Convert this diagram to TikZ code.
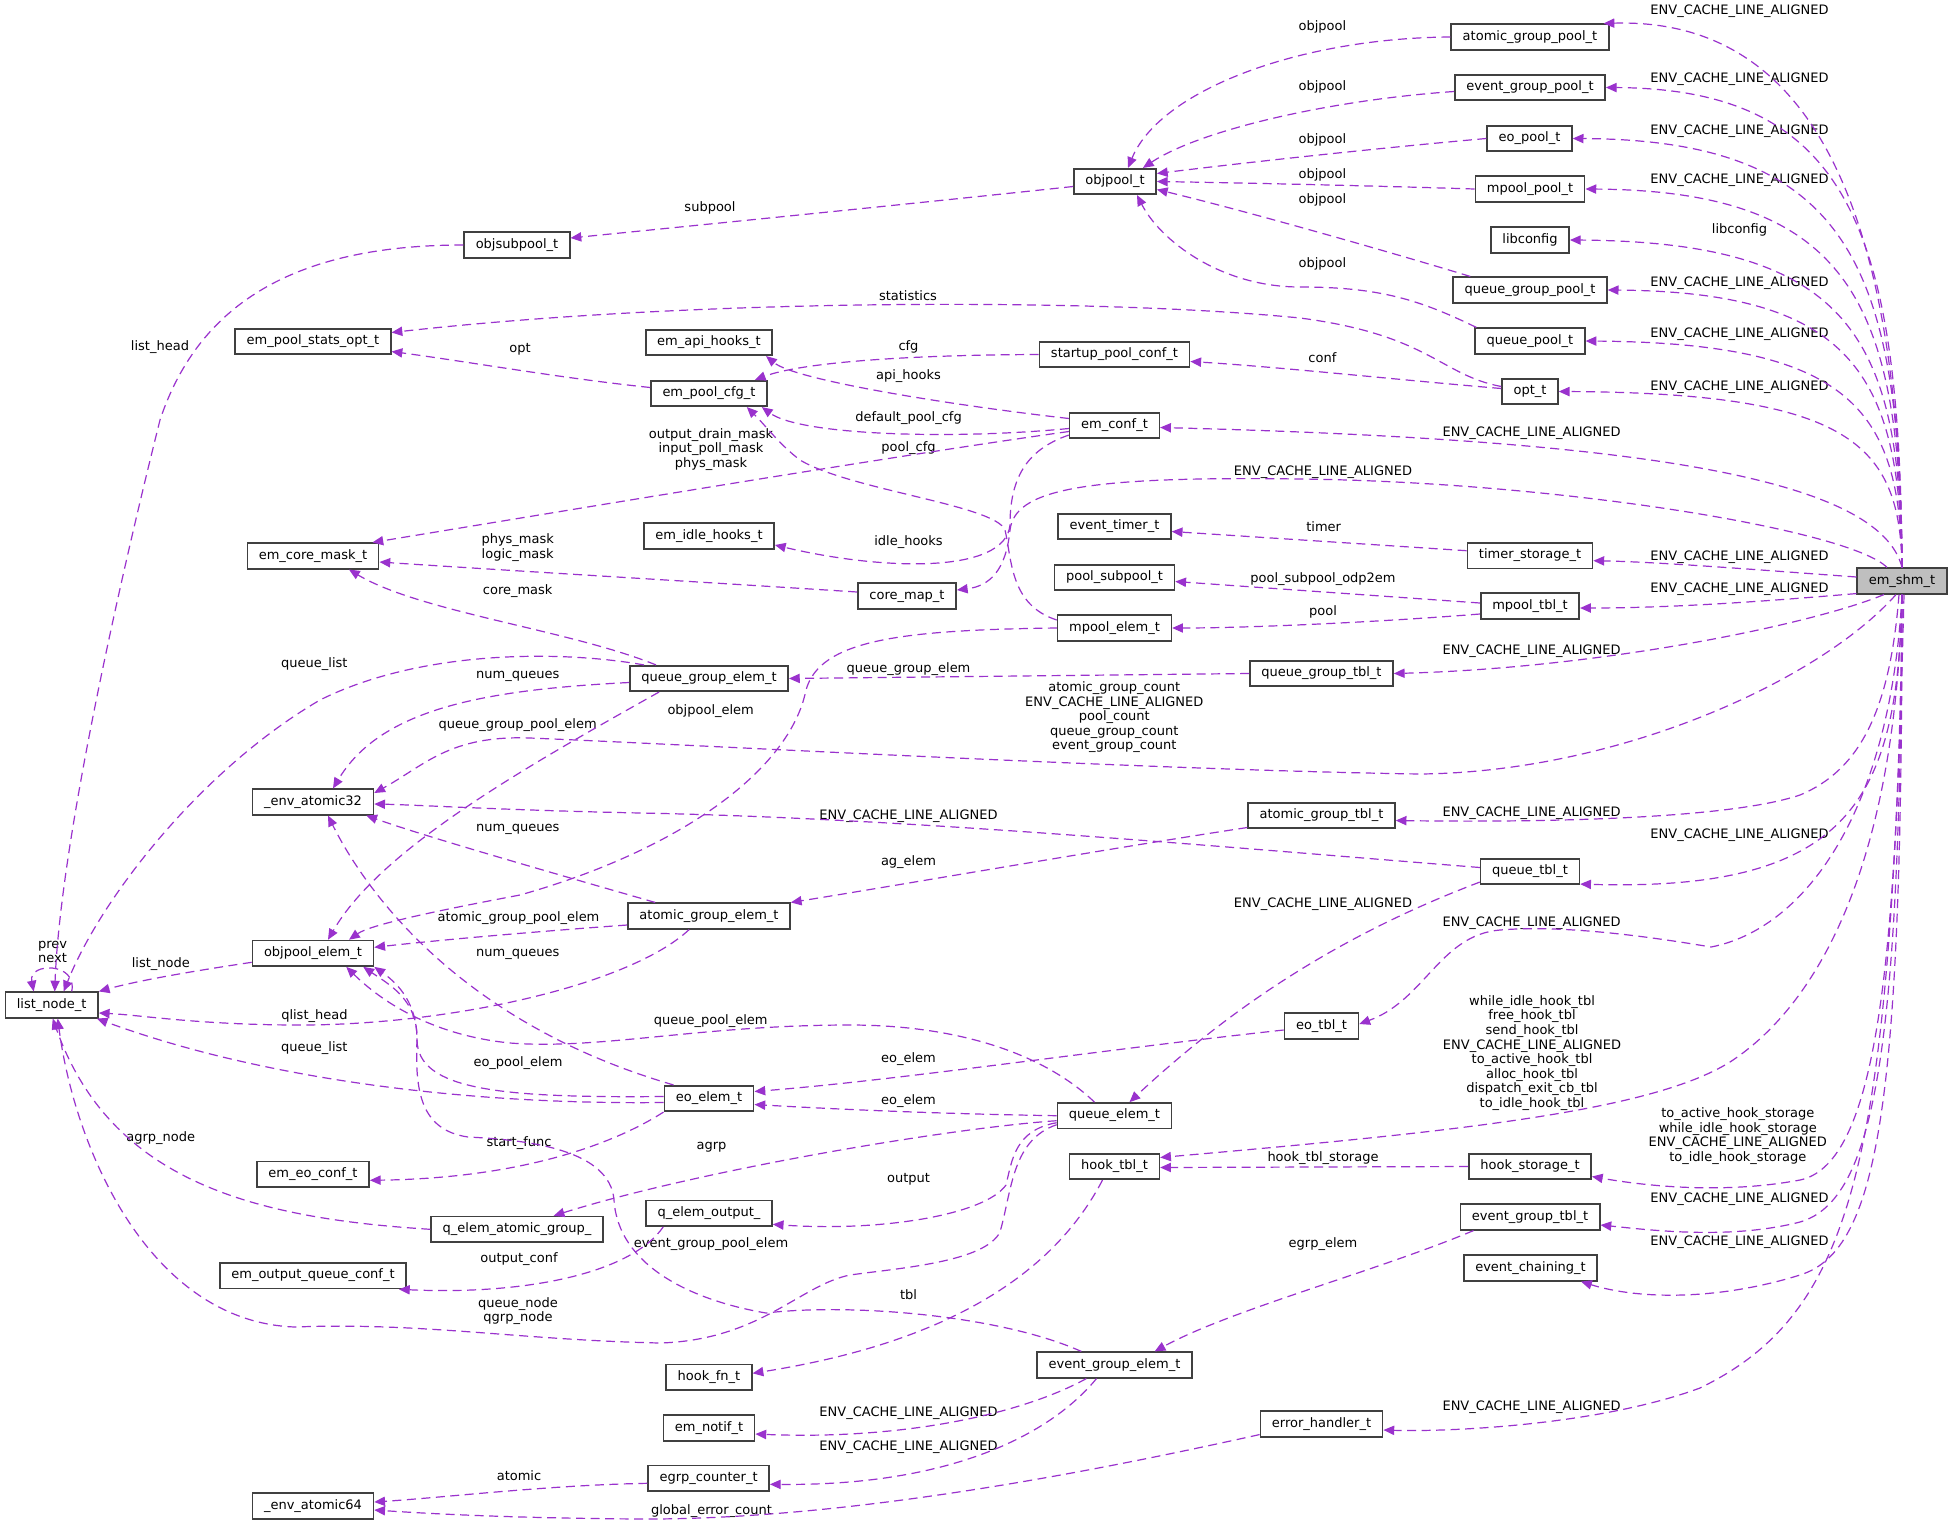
\documentclass[tikz,border=0pt]{standalone}
\usepackage{fontspec}
\setmainfont{DejaVu Sans}
\usetikzlibrary{arrows.meta,calc}
\definecolor{edgec}{RGB}{154,50,205}
\definecolor{boxc}{RGB}{64,64,64}
\definecolor{shmfill}{RGB}{191,191,191}
\newcommand\dxf{\fontsize{5.2}{5.84}\selectfont}
\newcommand\ecl{ENV\_CACHE\_LINE\_ALIGNED}
\begin{document}
\begin{tikzpicture}[x=0.4pt,y=-0.4pt,
  dbox/.style={draw=boxc, line width=0.65pt, fill=white, inner xsep=4.6pt, inner ysep=0pt, minimum height=10.2pt, text height=3.9pt, text depth=1.3pt, font=\dxf},
  dlab/.style={inner sep=0pt, align=center, font=\dxf},
  dedge/.style={draw=edgec, line width=0.48pt, dash pattern=on 3.6pt off 2.2pt, -{Triangle[length=4.3pt,width=3.7pt]}}]
\useasboundingbox (0,0) rectangle (1953,1527);
\fill[white] (0,0) rectangle (1953,1527);

% ---------- boxes ----------
\node[dbox, fill=shmfill] (shm) at (1902,581) {em\_shm\_t};
\node[dbox] (agp) at (1530,37) {atomic\_group\_pool\_t};
\node[dbox] (egp) at (1530,87.5) {event\_group\_pool\_t};
\node[dbox] (eop) at (1529.5,138.5) {eo\_pool\_t};
\node[dbox] (mpp) at (1530,189) {mpool\_pool\_t};
\node[dbox] (libc) at (1530,240) {libconfig};
\node[dbox] (qgp) at (1530,290) {queue\_group\_pool\_t};
\node[dbox] (qp) at (1530,341) {queue\_pool\_t};
\node[dbox] (opt) at (1530,391.5) {opt\_t};
\node[dbox] (objpool) at (1115,181.5) {objpool\_t};
\node[dbox] (objsub) at (517,245) {objsubpool\_t};
\node[dbox] (stats) at (313,341.5) {em\_pool\_stats\_opt\_t};
\node[dbox] (apih) at (709,342.5) {em\_api\_hooks\_t};
\node[dbox] (spc) at (1114.5,354.5) {startup\_pool\_conf\_t};
\node[dbox] (pcfg) at (709,393.5) {em\_pool\_cfg\_t};
\node[dbox] (conf) at (1114.5,425.5) {em\_conf\_t};
\node[dbox] (idle) at (709,536) {em\_idle\_hooks\_t};
\node[dbox] (cmap) at (907,596) {core\_map\_t};
\node[dbox] (etimer) at (1114.5,526.5) {event\_timer\_t};
\node[dbox] (psub) at (1114.5,577.5) {pool\_subpool\_t};
\node[dbox] (mpe) at (1114.5,628) {mpool\_elem\_t};
\node[dbox] (tstor) at (1530,555.7) {timer\_storage\_t};
\node[dbox] (mptbl) at (1530,606) {mpool\_tbl\_t};
\node[dbox] (qge) at (709,678.5) {queue\_group\_elem\_t};
\node[dbox] (qgtbl) at (1321.5,673.5) {queue\_group\_tbl\_t};
\node[dbox] (agtbl) at (1321.5,815.5) {atomic\_group\_tbl\_t};
\node[dbox] (age) at (709,916) {atomic\_group\_elem\_t};
\node[dbox] (qtbl) at (1530,871.5) {queue\_tbl\_t};
\node[dbox] (coremask) at (313,556) {em\_core\_mask\_t};
\node[dbox] (a32) at (313,802) {\_env\_atomic32};
\node[dbox] (ope) at (313,953.3) {objpool\_elem\_t};
\node[dbox] (lnode) at (51.7,1005) {list\_node\_t};
\node[dbox] (eotbl) at (1321.5,1026) {eo\_tbl\_t};
\node[dbox] (eoe) at (709,1098.5) {eo\_elem\_t};
\node[dbox] (qe) at (1114.5,1115.7) {queue\_elem\_t};
\node[dbox] (hooktbl) at (1114.5,1166.5) {hook\_tbl\_t};
\node[dbox] (hstor) at (1530,1166.5) {hook\_storage\_t};
\node[dbox] (egtbl) at (1530,1217) {event\_group\_tbl\_t};
\node[dbox] (echain) at (1530.5,1268) {event\_chaining\_t};
\node[dbox] (eoconf) at (313,1174.3) {em\_eo\_conf\_t};
\node[dbox] (qag) at (517,1229.3) {q\_elem\_atomic\_group\_};
\node[dbox] (qout) at (709,1213.3) {q\_elem\_output\_};
\node[dbox] (oqc) at (313,1275.7) {em\_output\_queue\_conf\_t};
\node[dbox] (hookfn) at (709,1377.3) {hook\_fn\_t};
\node[dbox] (ege) at (1114.5,1365) {event\_group\_elem\_t};
\node[dbox] (notif) at (709,1428) {em\_notif\_t};
\node[dbox] (egc) at (708.6,1478.3) {egrp\_counter\_t};
\node[dbox] (a64) at (313,1506) {\_env\_atomic64};
\node[dbox] (errh) at (1321.5,1424) {error\_handler\_t};

% ---------- labels ----------
\node[dlab] (l01) at (1739.5,11.7) {\ecl};
\node[dlab] (l02) at (1739.5,79) {\ecl};
\node[dlab] (l03) at (1739.5,131) {\ecl};
\node[dlab] (l04) at (1739.5,180) {\ecl};
\node[dlab] (l05) at (1739.5,230) {libconfig};
\node[dlab] (l06) at (1739.5,283) {\ecl};
\node[dlab] (l07) at (1739.5,334) {\ecl};
\node[dlab] (l08) at (1739.5,387) {\ecl};
\node[dlab] (l09) at (1739.5,556.7) {\ecl};
\node[dlab] (l10) at (1739.5,588.7) {\ecl};
\node[dlab] (l11) at (1739.5,835.3) {\ecl};
\node[dlab] (l12) at (1737.8,1136) {to\_active\_hook\_storage\\while\_idle\_hook\_storage\\\ecl\\to\_idle\_hook\_storage};
\node[dlab] (l13) at (1739.5,1198.7) {\ecl};
\node[dlab] (l14) at (1739.5,1242.3) {\ecl};
\node[dlab] (l15) at (1531.6,432.7) {\ecl};
\node[dlab] (l16) at (1531.6,650.7) {\ecl};
\node[dlab] (l17) at (1531.6,812.7) {\ecl};
\node[dlab] (l18) at (1531.6,922.7) {\ecl};
\node[dlab] (l19) at (1532,1053) {while\_idle\_hook\_tbl\\free\_hook\_tbl\\send\_hook\_tbl\\\ecl\\to\_active\_hook\_tbl\\alloc\_hook\_tbl\\dispatch\_exit\_cb\_tbl\\to\_idle\_hook\_tbl};
\node[dlab] (l20) at (1531.6,1406.7) {\ecl};
\node[dlab] (l21) at (1322.4,27) {objpool};
\node[dlab] (l22) at (1322.4,87) {objpool};
\node[dlab] (l23) at (1322.4,140) {objpool};
\node[dlab] (l24) at (1322.4,175) {objpool};
\node[dlab] (l25) at (1322.4,200) {objpool};
\node[dlab] (l26) at (1322.4,264) {objpool};
\node[dlab] (l27) at (1322.4,358) {conf};
\node[dlab] (l28) at (1323,472) {\ecl};
\node[dlab] (l29) at (1323.7,527) {timer};
\node[dlab] (l30) at (1323,578.7) {pool\_subpool\_odp2em};
\node[dlab] (l31) at (1323,612.3) {pool};
\node[dlab] (l32) at (1323,903.7) {\ecl};
\node[dlab] (l33) at (1323,1158.3) {hook\_tbl\_storage};
\node[dlab] (l34) at (1323,1243.7) {egrp\_elem};
\node[dlab] (l35) at (1114.3,717.2) {atomic\_group\_count\\\ecl\\pool\_count\\queue\_group\_count\\event\_group\_count};
\node[dlab] (l36) at (908,296) {statistics};
\node[dlab] (l37) at (908.5,347) {cfg};
\node[dlab] (l38) at (908.5,375.7) {api\_hooks};
\node[dlab] (l39) at (908.5,418) {default\_pool\_cfg};
\node[dlab] (l40) at (908.5,448) {pool\_cfg};
\node[dlab] (l41) at (908.5,542) {idle\_hooks};
\node[dlab] (l42) at (908.5,668.7) {queue\_group\_elem};
\node[dlab] (l43) at (908.5,815.7) {\ecl};
\node[dlab] (l44) at (908.5,862) {ag\_elem};
\node[dlab] (l45) at (908.5,1058.7) {eo\_elem};
\node[dlab] (l46) at (908.5,1100.7) {eo\_elem};
\node[dlab] (l47) at (908.5,1179.7) {output};
\node[dlab] (l48) at (908.5,1295) {tbl};
\node[dlab] (l49) at (908.5,1412.7) {\ecl};
\node[dlab] (l50) at (908.5,1447.3) {\ecl};
\node[dlab] (l51) at (710,208) {subpool};
\node[dlab] (l52) at (711,449.5) {output\_drain\_mask\\input\_poll\_mask\\phys\_mask};
\node[dlab] (l53) at (710.7,710.7) {objpool\_elem};
\node[dlab] (l54) at (710.7,1020.7) {queue\_pool\_elem};
\node[dlab] (l55) at (711.5,1146.7) {agrp};
\node[dlab] (l56) at (711,1244.3) {event\_group\_pool\_elem};
\node[dlab] (l57) at (711.5,1510.7) {global\_error\_count};
\node[dlab] (l58) at (520,349) {opt};
\node[dlab] (l59) at (517.7,547.7) {phys\_mask\\logic\_mask};
\node[dlab] (l60) at (517.7,591.3) {core\_mask};
\node[dlab] (l61) at (517.7,676.7) {num\_queues};
\node[dlab] (l62) at (517.7,724.7) {queue\_group\_pool\_elem};
\node[dlab] (l63) at (517.7,829) {num\_queues};
\node[dlab] (l64) at (518.5,918.3) {atomic\_group\_pool\_elem};
\node[dlab] (l65) at (517.7,954.7) {num\_queues};
\node[dlab] (l66) at (518,1063.3) {eo\_pool\_elem};
\node[dlab] (l67) at (519,1142.7) {start\_func};
\node[dlab] (l68) at (519,1259) {output\_conf};
\node[dlab] (l69) at (518,1311) {queue\_node\\qgrp\_node};
\node[dlab] (l70) at (519,1476) {atomic};
\node[dlab] (l71) at (314.4,664.3) {queue\_list};
\node[dlab] (l72) at (314.4,1016) {qlist\_head};
\node[dlab] (l73) at (314.4,1048.3) {queue\_list};
\node[dlab] (l74) at (160,347) {list\_head};
\node[dlab] (l75) at (160.8,964) {list\_node};
\node[dlab] (l76) at (160.8,1138.3) {agrp\_node};
\node[dlab] (l77) at (52.6,952) {prev\\next};

% ---------- edges from em_shm_t ----------
\draw[dedge] (shm.north) .. controls (1900,186) and (1800,18) .. ($(agp.north east)+(-6,0)$);
\draw[dedge] (shm.north) .. controls (1900,232) and (1850,89) .. (egp.east);
\draw[dedge] (shm.north) .. controls (1900,267) and (1850,140) .. (eop.east);
\draw[dedge] (shm.north) .. controls (1900,303) and (1850,191) .. (mpp.east);
\draw[dedge] (shm.north) .. controls (1900,338) and (1850,242) .. (libc.east);
\draw[dedge] (shm.north) .. controls (1900,373) and (1850,292) .. (qgp.east);
\draw[dedge] (shm.north) .. controls (1900,409) and (1850,343) .. (qp.east);
\draw[dedge] (shm.north) .. controls (1900,444) and (1850,393) .. (opt.east);
\draw[dedge] (shm.north) .. controls (1880,480) and (1650,440) .. ($(conf.east)+(0,2)$);
\draw[dedge] ($(shm.north)+(-15,0)$) .. controls (1850,530) and (1560,482) .. (1300,479) .. controls (1080,476) and (1015,490) .. (1010,530) .. controls (1006,570) and (990,586) .. ($(cmap.east)+(0,-6)$);
\draw[dedge] ($(shm.west)+(0,-4)$) .. controls (1760,570) and (1660,562) .. ($(tstor.east)+(0,5)$);
\draw[dedge] ($(shm.south west)+(0,-1)$) .. controls (1780,600) and (1680,608) .. ($(mptbl.east)+(0,2)$);
\draw[dedge] ($(shm.south)+(-18,0)$) .. controls (1810,625) and (1600,668) .. (qgtbl.east);
\draw[dedge] ($(shm.south)+(-6,0)$) .. controls (1820,680) and (1620,772) .. (1420,774) .. controls (1150,770) and (700,745) .. (530,738) .. controls (450,735) and (425,765) .. ($(a32.east)+(0,-9)$);
\draw[dedge] ($(shm.south)+(-3,0)$) .. controls (1890,710) and (1860,770) .. (1800,795) .. controls (1720,822) and (1500,822) .. ($(agtbl.east)+(0,5)$);
\draw[dedge] (shm.south) .. controls (1898,800) and (1850,892) .. ($(qtbl.south east)+(0,-1)$);
\draw[dedge] (shm.south) .. controls (1890,820) and (1800,930) .. (1711,947) .. controls (1640,935) and (1560,925) .. (1500,930) .. controls (1440,935) and (1425,1000) .. ($(eotbl.east)+(0,-2)$);
\draw[dedge] (shm.south) .. controls (1895,880) and (1810,1010) .. (1730,1062) .. controls (1650,1112) and (1450,1132) .. ($(hooktbl.east)+(0,-9)$);
\draw[dedge] (shm.south) .. controls (1898,1000) and (1870,1165) .. (1800,1180) .. controls (1720,1195) and (1640,1185) .. ($(hstor.east)+(0,10)$);
\draw[dedge] (shm.south) .. controls (1900,1050) and (1875,1200) .. (1800,1222) .. controls (1730,1240) and (1650,1230) .. ($(egtbl.east)+(0,8)$);
\draw[dedge] (shm.south) .. controls (1902,1100) and (1880,1250) .. (1800,1275) .. controls (1720,1300) and (1640,1300) .. ($(echain.south east)+(-17,0)$);
\draw[dedge] ($(shm.south)+(2,0)$) .. controls (1890,1150) and (1860,1310) .. (1700,1388) .. controls (1600,1425) and (1450,1432) .. ($(errh.east)+(0,6)$);

% ---------- objpool ----------
\draw[dedge] (agp.west) .. controls (1300,38) and (1160,90) .. ($(objpool.north)+(13,0)$);
\draw[dedge] ($(egp.west)+(0,4)$) .. controls (1330,100) and (1200,130) .. ($(objpool.north east)+(-14,0)$);
\draw[dedge] (eop.west) .. controls (1380,148) and (1250,162) .. ($(objpool.east)+(0,-8)$);
\draw[dedge] (mpp.west) .. controls (1380,186) and (1250,183) .. (objpool.east);
\draw[dedge] ($(qgp.north west)+(18,0)$) .. controls (1400,255) and (1250,212) .. ($(objpool.east)+(0,8)$);
\draw[dedge] ($(qp.north west)+(2,0)$) .. controls (1420,300) and (1380,287) .. (1300,287) .. controls (1220,287) and (1160,240) .. ($(objpool.south)+(22,0)$);
\draw[dedge] ($(objpool.west)+(0,5)$) .. controls (900,205) and (700,225) .. ($(objsub.east)+(0,-7)$);
\draw[dedge] (objsub.west) .. controls (300,245) and (200,300) .. (160,420) .. controls (115,600) and (60,850) .. ($(lnode.north)+(3,0)$);

% ---------- list_node_t ----------
\draw[dedge] ($(lnode.north)+(20,0)$) .. controls (78,962) and (28,962) .. ($(lnode.north)+(-18,0)$);
\draw[dedge] ($(qge.north west)+(15,0)$) .. controls (560,650) and (420,650) .. (320,700) .. controls (200,770) and (100,900) .. ($(lnode.north)+(12,0)$);
\draw[dedge] ($(ope.west)+(0,9)$) .. controls (200,970) and (140,980) .. (lnode.north east);
\draw[dedge] ($(age.south west)+(62,0)$) .. controls (630,985) and (450,1025) .. (300,1025) .. controls (200,1025) and (140,1015) .. ($(lnode.east)+(0,8)$);
\draw[dedge] ($(eoe.west)+(0,4)$) .. controls (450,1105) and (250,1075) .. ($(lnode.south east)+(-2,0)$);
\draw[dedge] ($(qe.west)+(0,9)$) .. controls (1012,1140) and (1012,1190) .. (1000,1232) .. controls (985,1262) and (900,1268) .. (850,1275) .. controls (800,1285) and (760,1340) .. (660,1343) .. controls (520,1340) and (420,1322) .. (295,1327) .. controls (150,1322) and (75,1150) .. ($(lnode.south)+(6,0)$);
\draw[dedge] (qag.west) .. controls (250,1218) and (110,1180) .. ($(lnode.south)+(1,0)$);

% ---------- objpool_elem_t ----------
\draw[dedge] ($(eoe.west)+(0,-2)$) .. controls (500,1098) and (418,1090) .. (417,1040) .. controls (417,1005) and (400,985) .. (ope.south east);
\draw[dedge] ($(qe.north)+(-20,0)$) .. controls (1040,1050) and (950,1025) .. (850,1025) .. controls (700,1025) and (600,1050) .. (510,1043) .. controls (430,1035) and (380,1000) .. ($(ope.south east)+(-28,0)$);
\draw[dedge] ($(ege.north west)+(45,0)$) .. controls (1000,1315) and (850,1303) .. (766,1313) .. controls (690,1300) and (618,1265) .. (614,1200) .. controls (610,1150) and (530,1140) .. (468,1137) .. controls (420,1130) and (415,1090) .. (417,1040) .. controls (418,1000) and (390,985) .. ($(ope.south east)+(-11,0)$);
\draw[dedge] ($(qge.south west)+(30,0)$) .. controls (520,770) and (380,850) .. ($(ope.north)+(15,0)$);
\draw[dedge] (mpe.west) .. controls (900,630) and (820,640) .. (806,690) .. controls (790,770) and (680,850) .. (520,895) .. controls (430,912) and (370,925) .. ($(ope.north)+(36,0)$);
\draw[dedge] ($(age.west)+(0,9)$) .. controls (530,932) and (440,940) .. ($(ope.east)+(0,-6)$);

% ---------- _env_atomic32 ----------
\draw[dedge] ($(qge.west)+(0,4)$) .. controls (480,690) and (380,710) .. ($(a32.north)+(20,0)$);
\draw[dedge] ($(age.north west)+(28,0)$) .. controls (560,875) and (430,838) .. ($(a32.south east)+(-8,0)$);
\draw[dedge] ($(eoe.north west)+(10,0)$) .. controls (450,1020) and (360,880) .. ($(a32.south)+(15,0)$);
\draw[dedge] ($(qtbl.west)+(0,-4)$) .. controls (1200,845) and (900,818) .. (640,813) .. controls (500,810) and (420,805) .. ($(a32.east)+(0,2)$);

% ---------- core mask, conf, pool cfg ----------
\draw[dedge] ($(qge.north west)+(27,0)$) .. controls (570,630) and (420,612) .. ($(coremask.south)+(36,0)$);
\draw[dedge] ($(cmap.west)+(0,-4)$) .. controls (750,585) and (500,570) .. ($(coremask.east)+(0,6)$);
\draw[dedge] ($(conf.west)+(0,6)$) .. controls (900,455) and (600,505) .. ($(coremask.north east)+(-7,0)$);
\draw[dedge] ($(conf.west)+(0,-7)$) .. controls (950,405) and (795,380) .. ($(apih.south east)+(-7,0)$);
\draw[dedge] ($(conf.west)+(0,3)$) .. controls (950,440) and (800,435) .. ($(pcfg.south east)+(-6,0)$);
\draw[dedge] ($(mpe.west)+(0,-8)$) .. controls (1010,605) and (1012,560) .. (1005,530) .. controls (995,505) and (850,490) .. (800,460) .. controls (780,445) and (765,425) .. ($(pcfg.south east)+(-21,0)$);
\draw[dedge] ($(conf.south west)+(0,-4)$) .. controls (1025,450) and (1010,480) .. (1010,525) .. controls (1005,575) and (880,570) .. ($(idle.east)+(0,9)$);
\draw[dedge] (spc.west) .. controls (900,355) and (800,363) .. ($(pcfg.north east)+(-13,0)$);
\draw[dedge] ($(pcfg.west)+(0,-6)$) .. controls (560,378) and (470,362) .. ($(stats.east)+(0,10)$);
\draw[dedge] ($(opt.west)+(0,-5)$) .. controls (1440,375) and (1430,335) .. (1300,318) .. controls (1100,298) and (700,298) .. ($(stats.east)+(0,-9)$);
\draw[dedge] ($(opt.west)+(0,-3)$) .. controls (1400,380) and (1280,367) .. ($(spc.east)+(0,7)$);

% ---------- tables ----------
\draw[dedge] ($(tstor.west)+(0,-5)$) -- ($(etimer.east)+(0,5)$);
\draw[dedge] ($(mptbl.west)+(0,-3)$) -- ($(psub.east)+(0,4)$);
\draw[dedge] ($(mptbl.west)+(0,8)$) .. controls (1380,622) and (1250,628) .. (mpe.east);
\draw[dedge] (qgtbl.west) -- (qge.east);
\draw[dedge] ($(agtbl.west)+(0,12)$) .. controls (1100,850) and (900,885) .. (age.north east);
\draw[dedge] ($(qtbl.south west)+(0,-3)$) .. controls (1380,920) and (1260,980) .. ($(qe.north)+(15,0)$);
\draw[dedge] ($(eotbl.west)+(0,4)$) .. controls (1100,1050) and (900,1080) .. ($(eoe.east)+(0,-7)$);
\draw[dedge] (qe.west) .. controls (950,1114) and (850,1110) .. ($(eoe.east)+(0,6)$);
\draw[dedge] (hstor.west) -- ($(hooktbl.east)+(0,1)$);
\draw[dedge] ($(egtbl.south west)+(14,0)$) .. controls (1380,1270) and (1230,1310) .. ($(ege.north east)+(-38,0)$);

% ---------- queue/eo elements ----------
\draw[dedge] (eoe.south west) .. controls (620,1140) and (530,1178) .. ($(eoconf.east)+(0,6)$);
\draw[dedge] ($(qe.west)+(0,5)$) .. controls (950,1128) and (700,1170) .. ($(qag.north east)+(-50,0)$);
\draw[dedge] ($(qe.west)+(0,7)$) .. controls (1015,1130) and (1012,1160) .. (1006,1185) .. controls (985,1215) and (880,1232) .. ($(qout.east)+(0,11)$);
\draw[dedge] ($(qout.south west)+(18,0)$) .. controls (630,1275) and (520,1295) .. ($(oqc.south east)+(-8,0)$);
\draw[dedge] ($(hooktbl.south)+(-12,0)$) .. controls (1040,1300) and (900,1350) .. ($(hookfn.east)+(0,-4)$);
\draw[dedge] ($(ege.south west)+(50,0)$) .. controls (1020,1415) and (900,1440) .. ($(notif.east)+(0,6)$);
\draw[dedge] ($(ege.south)+(-18,0)$) .. controls (1050,1435) and (950,1486) .. ($(egc.east)+(0,6)$);
\draw[dedge] ($(egc.west)+(0,5)$) .. controls (550,1485) and (450,1497) .. ($(a64.east)+(0,-4)$);
\draw[dedge] ($(errh.south west)+(0,-3)$) .. controls (1100,1470) and (850,1520) .. (640,1519) .. controls (500,1518) and (420,1513) .. ($(a64.east)+(0,4)$);
\end{tikzpicture}
\end{document}
